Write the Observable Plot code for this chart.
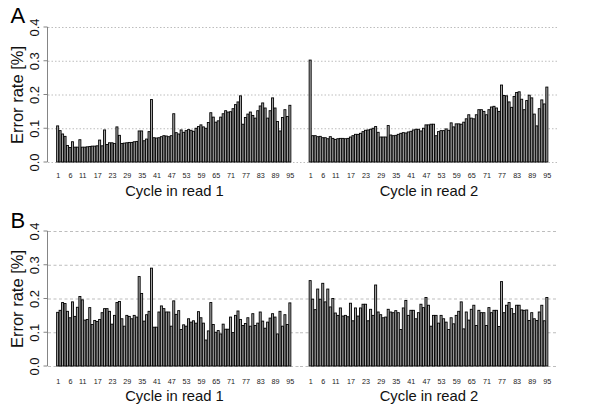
<!DOCTYPE html>
<html><head><meta charset="utf-8">
<script src="https://cdn.jsdelivr.net/npm/d3@7"></script>
<script src="https://cdn.jsdelivr.net/npm/@observablehq/plot@0.6"></script>
<style>
body{margin:0;background:#fff;}
#chart{position:relative;width:600px;height:411px;font-family:"Liberation Sans",Arial,Helvetica,sans-serif;}
#chart svg{position:absolute;overflow:visible;}
</style></head><body><div id="chart"></div>
<script>
const cycles = d3.range(1, 96);
const xTickLabels = [1,6,11,17,23,29,35,41,47,53,59,65,71,77,83,89,95];
const yTicks = [0, 0.1, 0.2, 0.3, 0.4];
const panelLetters = ["A", "B"];
const readTitles = ["Cycle in read 1", "Cycle in read 2"];
const yTitle = "Error rate [%]";

const errA_read1 = [0.107,0.093,0.083,0.076,0.049,0.043,0.060,0.044,0.044,0.066,
  0.044,0.044,0.045,0.046,0.047,0.047,0.048,0.065,0.048,0.095,
  0.052,0.057,0.057,0.055,0.104,0.079,0.055,0.056,0.057,0.058,
  0.058,0.060,0.061,0.092,0.092,0.063,0.068,0.090,0.185,0.072,
  0.071,0.072,0.075,0.078,0.077,0.075,0.078,0.143,0.087,0.083,
  0.095,0.088,0.093,0.096,0.094,0.091,0.100,0.105,0.110,0.104,
  0.100,0.117,0.146,0.133,0.118,0.122,0.133,0.143,0.152,0.148,
  0.149,0.158,0.170,0.178,0.196,0.112,0.132,0.142,0.148,0.138,
  0.130,0.152,0.166,0.175,0.160,0.130,0.152,0.190,0.160,0.120,
  0.092,0.132,0.155,0.135,0.168];
const errA_read2 = [0.302,0.078,0.078,0.075,0.076,0.072,0.072,0.069,0.075,0.070,
  0.067,0.069,0.070,0.070,0.069,0.070,0.074,0.078,0.082,0.082,
  0.085,0.090,0.094,0.095,0.097,0.100,0.105,0.088,0.074,0.074,
  0.074,0.108,0.080,0.078,0.079,0.082,0.085,0.087,0.086,0.089,
  0.091,0.095,0.097,0.097,0.092,0.100,0.110,0.110,0.112,0.112,
  0.078,0.090,0.093,0.093,0.098,0.094,0.116,0.104,0.113,0.113,
  0.112,0.118,0.128,0.140,0.130,0.128,0.140,0.155,0.155,0.150,
  0.140,0.155,0.163,0.165,0.160,0.150,0.228,0.197,0.196,0.178,
  0.162,0.194,0.206,0.208,0.186,0.155,0.182,0.198,0.190,0.142,
  0.107,0.158,0.184,0.172,0.222];
const errB_read1 = [0.159,0.165,0.188,0.185,0.162,0.143,0.190,0.147,0.174,0.206,
  0.196,0.136,0.138,0.173,0.123,0.135,0.132,0.138,0.158,0.170,
  0.170,0.162,0.124,0.150,0.188,0.191,0.140,0.118,0.150,0.147,
  0.140,0.150,0.145,0.265,0.215,0.133,0.152,0.162,0.290,0.115,
  0.115,0.160,0.178,0.170,0.160,0.160,0.118,0.193,0.153,0.164,
  0.108,0.122,0.118,0.140,0.130,0.134,0.127,0.161,0.143,0.127,
  0.077,0.104,0.188,0.123,0.100,0.105,0.095,0.124,0.109,0.109,
  0.145,0.099,0.150,0.163,0.138,0.120,0.126,0.143,0.118,0.155,
  0.120,0.127,0.160,0.133,0.112,0.130,0.142,0.155,0.145,0.095,
  0.162,0.118,0.152,0.123,0.187];
const errB_read2 = [0.253,0.198,0.167,0.228,0.198,0.245,0.190,0.228,0.175,0.200,
  0.157,0.150,0.172,0.148,0.150,0.146,0.186,0.134,0.172,0.148,
  0.172,0.183,0.183,0.134,0.168,0.150,0.240,0.160,0.152,0.143,
  0.145,0.168,0.160,0.158,0.164,0.158,0.108,0.172,0.194,0.150,
  0.165,0.165,0.140,0.158,0.183,0.173,0.203,0.180,0.118,0.150,
  0.150,0.127,0.150,0.140,0.130,0.108,0.143,0.125,0.150,0.162,
  0.190,0.110,0.160,0.136,0.168,0.180,0.120,0.165,0.158,0.158,
  0.120,0.173,0.158,0.165,0.165,0.117,0.250,0.158,0.180,0.188,
  0.170,0.155,0.180,0.180,0.166,0.165,0.166,0.135,0.158,0.140,
  0.135,0.160,0.180,0.134,0.203];

const series = [[errA_read1, errA_read2], [errB_read1, errB_read2]];
const root = document.getElementById("chart");

function makeChart(panel, read) {
  const values = series[panel][read];
  const data = cycles.map((c, i) => ({cycle: c, value: values[i]}));
  const top = panel === 0 ? 0 : 204;
  const height = panel === 0 ? 205 : 207;
  const marginTop = 27;
  const marginBottom = height - 162;
  const marginLeft = read === 0 ? 48 : 0;
  const marginRight = read === 0 ? 0 : 43;
  const marks = [
    Plot.ruleY(yTicks, {stroke: "#bdbdbd", strokeWidth: 1, strokeDasharray: panel === 0 ? "1.5,2" : "3,2.5"}),
    Plot.barY(data, {x: "cycle", y: "value", fill: "#a6a6a6", stroke: "#000", strokeWidth: 0.9}),
    Plot.axisX({ticks: xTickLabels, tickSize: 0, tickPadding: panel === 0 ? 10 : 12, fontSize: 7.2, fill: "#222", label: null}),
    Plot.text([readTitles[read]], {text: d => d, frameAnchor: "bottom", dy: panel === 0 ? 29 : 30, lineAnchor: "middle", fontSize: 14.8, fill: "#111"})
  ];
  if (read === 0) {
    marks.push(
      (index, scales, values, dims) => {
        const g = d3.create("svg:g").attr("stroke", "#777").attr("stroke-width", 0.9).attr("fill", "none");
        const x0 = dims.marginLeft - 0.5;
        g.append("line").attr("x1", x0).attr("x2", x0).attr("y1", scales.y(0)).attr("y2", scales.y(0.4));
        for (const t of yTicks) {
          g.append("line").attr("x1", x0 - 4).attr("x2", x0).attr("y1", scales.y(t)).attr("y2", scales.y(t));
        }
        return g.node();
      },
      Plot.text(yTicks, {y: d => d, text: d => d.toFixed(1), frameAnchor: "left", dx: -14, rotate: -90, textAnchor: "middle", lineAnchor: "middle", fontSize: 13, fill: "#111"}),
      Plot.text([yTitle], {text: d => d, frameAnchor: "left", dx: -31, rotate: -90, textAnchor: "middle", lineAnchor: "middle", fontSize: 16.5, fill: "#111"}),
      Plot.text([panelLetters[panel]], {text: d => d, frameAnchor: "top-left", dx: -38, dy: panel === 0 ? -12 : -10.5, textAnchor: "start", lineAnchor: "middle", fontSize: 22, fill: "#000"})
    );
  }
  const svg = Plot.plot({
    width: 300, height, marginTop, marginBottom, marginLeft, marginRight,
    x: {type: "band", domain: cycles, range: read === 0 ? [56.5, 291] : [9, 248], paddingInner: 0.18, paddingOuter: 0.05, axis: null},
    y: {domain: [0, 0.4], axis: null},
    style: {fontFamily: "'Liberation Sans', Arial, Helvetica, sans-serif", background: "transparent", overflow: "visible"},
    marks
  });
  svg.style.left = (read === 0 ? 0 : 300) + "px";
  svg.style.top = top + "px";
  root.appendChild(svg);
}
for (let p = 0; p < 2; p++) for (let r = 0; r < 2; r++) makeChart(p, r);
</script>
</body></html>
